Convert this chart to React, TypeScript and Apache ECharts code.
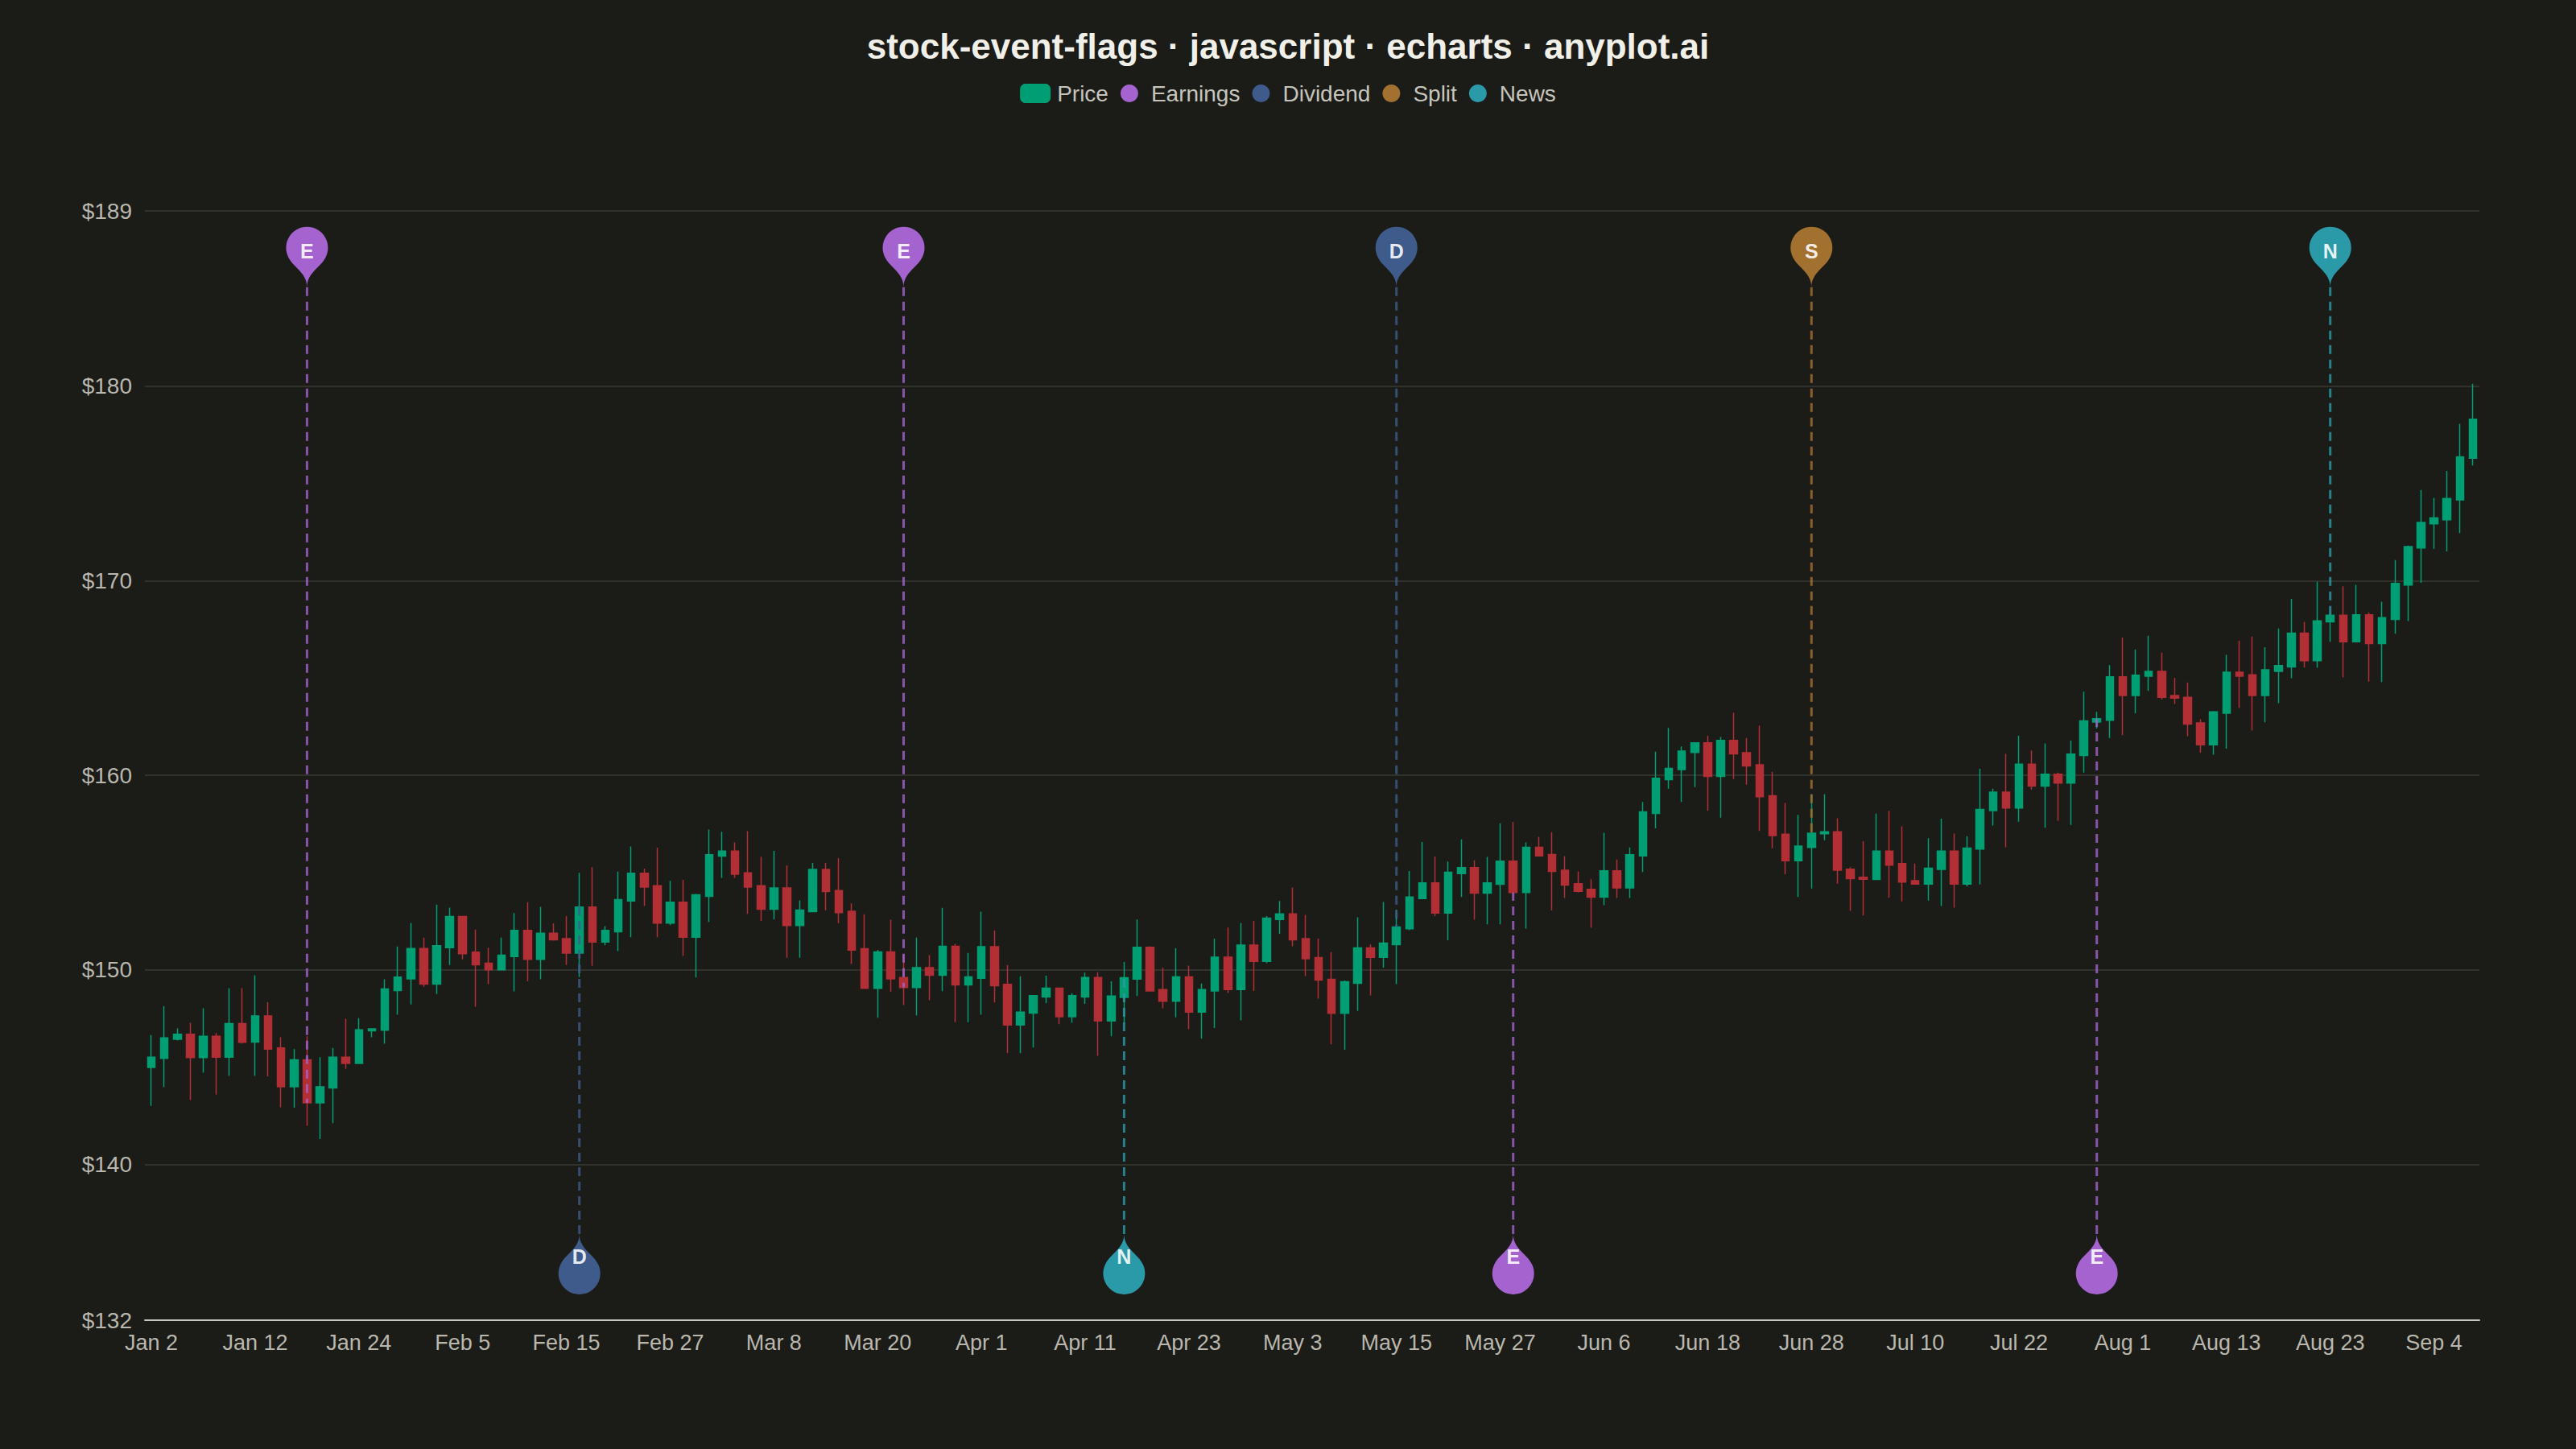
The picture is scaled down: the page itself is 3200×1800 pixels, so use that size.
import React, { useEffect, useRef } from "react";
import * as echarts from "echarts";

// ---------------- data ----------------
const START_DATE = "2024-01-02";
const MONTHS = ["Jan", "Feb", "Mar", "Apr", "May", "Jun", "Jul", "Aug", "Sep", "Oct", "Nov", "Dec"];

// [open, close, low, high] per trading day
const OHLC: number[][] = [
  [144.99, 145.52, 143.01, 146.65], [145.45, 146.51, 143.97, 148.14], [146.44, 146.69, 146.37, 146.99],
  [146.69, 145.49, 143.31, 147.28], [145.49, 146.59, 144.72, 148.03], [146.59, 145.52, 143.59, 146.76],
  [145.52, 147.24, 144.55, 149.06], [147.24, 146.28, 146.21, 149.06], [146.29, 147.64, 144.55, 149.72],
  [147.64, 145.93, 144.52, 148.34], [145.99, 144.0, 142.94, 146.54], [144.0, 145.38, 142.92, 145.93],
  [145.38, 143.17, 141.99, 146.59], [143.17, 144.0, 141.31, 145.52], [143.93, 145.52, 142.12, 145.99],
  [145.52, 145.2, 144.92, 147.49], [145.2, 146.92, 145.18, 147.52], [146.87, 146.97, 146.54, 146.99],
  [146.9, 149.02, 146.21, 149.52], [148.94, 149.63, 147.7, 151.2], [149.54, 151.1, 148.23, 152.41],
  [151.1, 149.27, 149.13, 151.66], [149.27, 151.24, 148.76, 153.35], [151.14, 152.74, 150.25, 153.2],
  [152.74, 150.83, 150.54, 152.77], [150.91, 150.26, 148.11, 152.07], [150.34, 150.0, 149.27, 151.14],
  [150.0, 150.76, 149.98, 151.66], [150.69, 152.03, 148.9, 152.92], [152.03, 150.54, 149.41, 153.48],
  [150.54, 151.89, 149.52, 153.24], [151.89, 151.54, 151.5, 152.39], [151.61, 150.86, 150.25, 152.77],
  [150.86, 153.23, 149.63, 154.99], [153.23, 151.43, 150.21, 155.28], [151.43, 152.03, 151.27, 152.25],
  [151.96, 153.61, 150.97, 155.05], [153.54, 154.97, 151.68, 156.34], [154.97, 154.25, 153.28, 155.21],
  [154.33, 152.4, 151.68, 156.28], [152.4, 153.48, 152.3, 154.57], [153.48, 151.68, 150.72, 154.63],
  [151.68, 153.86, 149.61, 153.9], [153.78, 155.92, 152.46, 157.21], [155.85, 156.1, 154.73, 157.1],
  [156.1, 154.92, 154.73, 156.55], [154.99, 154.25, 152.88, 157.13], [154.33, 153.12, 152.52, 155.82],
  [153.12, 154.21, 152.59, 156.12], [154.21, 152.28, 150.62, 155.37], [152.28, 153.08, 150.62, 153.57],
  [152.99, 155.16, 152.99, 155.49], [155.16, 154.03, 153.06, 155.5], [154.08, 152.94, 152.4, 155.74],
  [153.01, 151.02, 150.3, 153.42], [151.09, 149.05, 149.05, 152.86], [149.05, 150.92, 147.54, 151.03],
  [150.92, 149.54, 148.88, 152.58], [149.61, 149.09, 148.19, 150.79], [149.09, 150.12, 147.66, 151.66],
  [150.12, 149.72, 148.44, 150.76], [149.72, 151.21, 148.91, 153.19], [151.21, 149.23, 147.31, 151.34],
  [149.23, 149.64, 147.31, 150.87], [149.57, 151.19, 147.7, 152.99], [151.19, 149.19, 148.33, 152.03],
  [149.26, 147.17, 145.72, 150.25], [147.17, 147.83, 145.72, 149.67], [147.78, 148.68, 146.01, 148.7],
  [148.61, 149.06, 148.3, 149.7], [149.06, 147.59, 147.21, 149.06], [147.59, 148.68, 147.28, 148.8],
  [148.61, 149.61, 148.26, 149.86], [149.61, 147.38, 145.59, 149.89], [147.38, 148.66, 146.59, 149.41],
  [148.59, 149.6, 147.28, 150.41], [149.53, 151.16, 148.66, 152.59], [151.16, 148.92, 148.92, 151.21],
  [148.99, 148.39, 148.03, 150.11], [148.39, 149.64, 147.56, 151.12], [149.64, 147.83, 146.95, 150.22],
  [147.83, 148.99, 146.47, 149.3], [148.92, 150.66, 147.02, 151.61], [150.66, 148.99, 148.81, 152.18],
  [148.99, 151.28, 147.41, 152.41], [151.28, 150.44, 148.92, 152.52], [150.44, 152.66, 150.34, 152.76],
  [152.59, 152.88, 151.86, 153.54], [152.88, 151.54, 151.21, 154.23], [151.61, 150.57, 149.68, 152.83],
  [150.63, 149.48, 148.52, 151.61], [149.52, 147.77, 146.18, 150.91], [147.77, 149.39, 145.9, 149.46],
  [149.31, 151.13, 147.89, 152.7], [151.13, 150.65, 148.69, 151.31], [150.65, 151.38, 150.12, 153.49],
  [151.3, 152.21, 149.27, 153.1], [152.11, 153.75, 152.04, 155.08], [153.66, 154.47, 153.63, 156.57],
  [154.47, 152.92, 152.76, 155.83], [152.92, 155.02, 151.52, 155.57], [154.95, 155.26, 153.75, 156.7],
  [155.26, 153.94, 152.58, 155.63], [153.94, 154.47, 152.34, 155.81], [154.4, 155.59, 152.34, 157.53],
  [155.59, 153.97, 153.97, 157.6], [153.97, 156.3, 152.12, 156.55], [156.3, 155.86, 155.86, 156.84],
  [155.93, 155.06, 153.05, 157.08], [155.12, 154.36, 153.7, 155.85], [154.43, 154.04, 153.97, 155.06],
  [154.14, 153.74, 152.17, 154.66], [153.74, 155.09, 153.32, 157.05], [155.09, 154.21, 153.7, 155.67],
  [154.21, 155.92, 153.7, 156.29], [155.86, 158.12, 155.03, 158.63], [158.04, 159.85, 157.27, 161.21],
  [159.78, 160.36, 159.31, 162.43], [160.29, 161.24, 158.63, 161.48], [161.17, 161.67, 159.39, 161.7],
  [161.67, 159.94, 158.18, 162.03], [159.94, 161.79, 157.82, 161.97], [161.79, 161.1, 159.81, 163.21],
  [161.16, 160.48, 159.52, 161.92], [160.54, 158.9, 157.14, 162.55], [158.95, 156.9, 156.25, 160.18],
  [156.97, 155.61, 154.92, 158.58], [155.61, 156.36, 153.75, 157.97], [156.29, 157.03, 154.18, 159.03],
  [156.99, 157.1, 156.66, 159.03], [157.1, 155.12, 154.43, 157.79], [155.17, 154.69, 153.03, 155.28],
  [154.76, 154.66, 152.8, 156.61], [154.65, 156.11, 154.65, 158.03], [156.11, 155.38, 153.71, 158.17],
  [155.46, 154.51, 153.52, 157.38], [154.58, 154.41, 154.41, 155.46], [154.41, 155.23, 153.56, 156.77],
  [155.16, 156.11, 153.28, 157.77], [156.11, 154.41, 153.2, 157.0], [154.41, 156.26, 154.29, 156.87],
  [156.21, 158.25, 154.39, 160.33], [158.18, 159.13, 157.42, 159.31], [159.13, 158.32, 156.3, 161.1],
  [158.32, 160.57, 157.61, 162.03], [160.57, 159.45, 159.26, 161.28], [159.45, 160.06, 157.3, 161.64],
  [160.06, 159.6, 157.66, 160.14], [159.6, 161.09, 157.45, 161.78], [161.02, 162.8, 160.14, 164.3],
  [162.73, 162.91, 162.4, 163.26], [162.83, 165.06, 161.92, 165.66], [165.06, 164.1, 162.06, 167.08],
  [164.1, 165.14, 163.19, 166.47], [165.09, 165.34, 164.34, 167.17], [165.34, 164.01, 163.89, 166.3],
  [164.1, 163.96, 163.66, 165.01], [164.01, 162.63, 162.01, 164.77], [162.69, 161.56, 161.16, 162.88],
  [161.56, 163.26, 161.06, 163.3], [163.19, 165.3, 161.37, 166.19], [165.3, 165.09, 163.46, 166.92],
  [165.16, 164.1, 162.3, 167.13], [164.1, 165.42, 162.72, 166.58], [165.34, 165.64, 163.71, 167.54],
  [165.57, 167.3, 164.99, 169.06], [167.3, 165.89, 165.54, 167.88], [165.89, 167.94, 165.53, 169.94],
  [167.88, 168.22, 166.86, 168.3], [168.22, 166.86, 165.03, 169.71], [166.86, 168.25, 166.84, 169.79],
  [168.25, 166.77, 164.81, 168.37], [166.77, 168.1, 164.79, 168.92], [168.01, 169.86, 167.27, 171.06],
  [169.78, 171.75, 167.92, 171.8], [171.68, 172.99, 169.89, 174.66], [172.92, 173.23, 171.64, 174.25],
  [173.13, 174.22, 171.5, 175.64], [174.15, 176.36, 172.44, 178.06], [176.29, 178.3, 175.92, 180.12],
];

// events: [trading-day index, side]  side: "top" | "bottom"
const EARNINGS_EVENTS: [number, string][] = [[12, "top"], [58, "top"], [105, "bottom"], [150, "bottom"]];
const DIVIDEND_EVENTS: [number, string][] = [[33, "bottom"], [96, "top"]];
const SPLIT_EVENTS: [number, string][] = [[128, "top"]];
const NEWS_EVENTS: [number, string][] = [[75, "bottom"], [168, "top"]];

const Y_MIN = 132;
const Y_MAX = 189;

// ---------------- style ----------------
const BG = "#1b1b17";
const UP = "#009e73";
const DOWN = "#b22f35";
const FONT = "'Liberation Sans', Arial, sans-serif";
const EVENT_TYPES = [
  { name: "Earnings", letter: "E", color: "#a463cf", events: EARNINGS_EVENTS },
  { name: "Dividend", letter: "D", color: "#3e5b8c", events: DIVIDEND_EVENTS },
  { name: "Split", letter: "S", color: "#a2712f", events: SPLIT_EVENTS },
  { name: "News", letter: "N", color: "#2a9aa9", events: NEWS_EVENTS },
];
// value at which the pin tip sits (top row / bottom row)
const PIN_TIP_TOP = 185.08;
const PIN_TIP_BOTTOM = 136.43;

// pin drawn with its tip at (0,0), head above
const PIN_PATH =
  "M-23.45 -37.77 A26 26 0 1 1 23.45 -37.77 C16.71 -23.7 0 -18.2 0 0 C0 -18.2 -16.71 -23.7 -23.45 -37.77 Z";
echarts.graphic.registerShape("eventPin", echarts.graphic.extendPath(PIN_PATH, {}));

function tradingDays(start: string, n: number): string[] {
  const out: string[] = [];
  const d = new Date(start + "T00:00:00Z");
  while (out.length < n) {
    const wd = d.getUTCDay();
    if (wd !== 0 && wd !== 6) out.push(`${MONTHS[d.getUTCMonth()]} ${d.getUTCDate()}`);
    d.setUTCDate(d.getUTCDate() + 1);
  }
  return out;
}

export default function App() {
  const ref = useRef<HTMLDivElement>(null);
  useEffect(() => {
    document.body.style.margin = "0";
    document.body.style.background = BG;
    if (!ref.current) return;
    const chart = echarts.init(ref.current, null, { renderer: "svg" });
    const categories = tradingDays(START_DATE, OHLC.length);

    const eventSeries = EVENT_TYPES.map((t) => ({
      name: t.name,
      type: "custom",
      z: 4,
      silent: true,
      itemStyle: { color: t.color },
      data: t.events.map(([i, side]) => [i, OHLC[i][1], side === "top" ? 1 : -1]),
      encode: { x: 0, y: 1 },
      renderItem: (_p: any, api: any) => {
        const x = api.value(0);
        const isTop = api.value(2) > 0;
        const tip = api.coord([x, isTop ? PIN_TIP_TOP : PIN_TIP_BOTTOM]);
        const close = api.coord([x, api.value(1)]);
        return {
          type: "group",
          children: [
            {
              type: "line",
              shape: { x1: tip[0], y1: tip[1], x2: close[0], y2: close[1] },
              style: { stroke: t.color, lineWidth: 3, lineDash: [11, 7], opacity: 0.8 },
            },
            {
              type: "eventPin",
              x: tip[0],
              y: tip[1],
              rotation: isTop ? 0 : Math.PI,
              style: { fill: t.color },
            },
            {
              type: "text",
              x: tip[0],
              y: tip[1] + (isTop ? -45 : 28),
              style: {
                text: t.letter,
                fill: "rgba(255,255,255,0.88)",
                font: `bold 25px ${FONT}`,
                align: "center",
                verticalAlign: "middle",
              },
            },
          ],
        };
      },
    }));

    chart.setOption({
      animation: false,
      backgroundColor: BG,
      textStyle: { fontFamily: FONT },
      title: {
        text: "stock-event-flags · javascript · echarts · anyplot.ai",
        left: "center",
        top: 30,
        textStyle: { color: "#f0efe8", fontSize: 44, fontWeight: "bold", fontFamily: FONT },
      },
      legend: {
        top: 97,
        left: "center",
        itemWidth: 36,
        itemHeight: 22,
        itemGap: 15,
        textStyle: { color: "#c6c5bd", fontSize: 28, fontFamily: FONT, padding: [0, 0, 0, 4] },
        data: [
          { name: "Price", icon: "roundRect", itemStyle: { color: UP } },
          ...EVENT_TYPES.map((t) => ({ name: t.name, icon: "circle", itemStyle: { color: t.color } })),
        ],
      },
      grid: { left: 180, right: 120, top: 262, bottom: 160, containLabel: false, outerBoundsMode: "none" },
      xAxis: {
        type: "category",
        data: categories,
        boundaryGap: true,
        axisLine: { lineStyle: { color: "#cac8be", width: 2 } },
        axisTick: { show: false },
        axisLabel: { color: "#b9b7ae", fontSize: 27, interval: 7, margin: 14, fontFamily: FONT },
        splitLine: { show: false },
      },
      yAxis: {
        type: "value",
        min: Y_MIN,
        max: Y_MAX,
        scale: true,
        axisLine: { show: false },
        axisTick: { show: false },
        axisLabel: { color: "#b9b7ae", fontSize: 28, margin: 16, formatter: (v: number) => `$${v}`, fontFamily: FONT },
        splitLine: { lineStyle: { color: "#3b3b36", width: 1.5 } },
      },
      series: [
        {
          name: "Price",
          type: "candlestick",
          z: 2,
          barWidth: "62%",
          data: OHLC,
          itemStyle: { color: UP, color0: DOWN, borderColor: UP, borderColor0: DOWN, borderWidth: 1.5 },
        },
        ...eventSeries,
      ],
    });
    return () => chart.dispose();
  }, []);
  return <div ref={ref} style={{ width: 3200, height: 1800 }} />;
}
